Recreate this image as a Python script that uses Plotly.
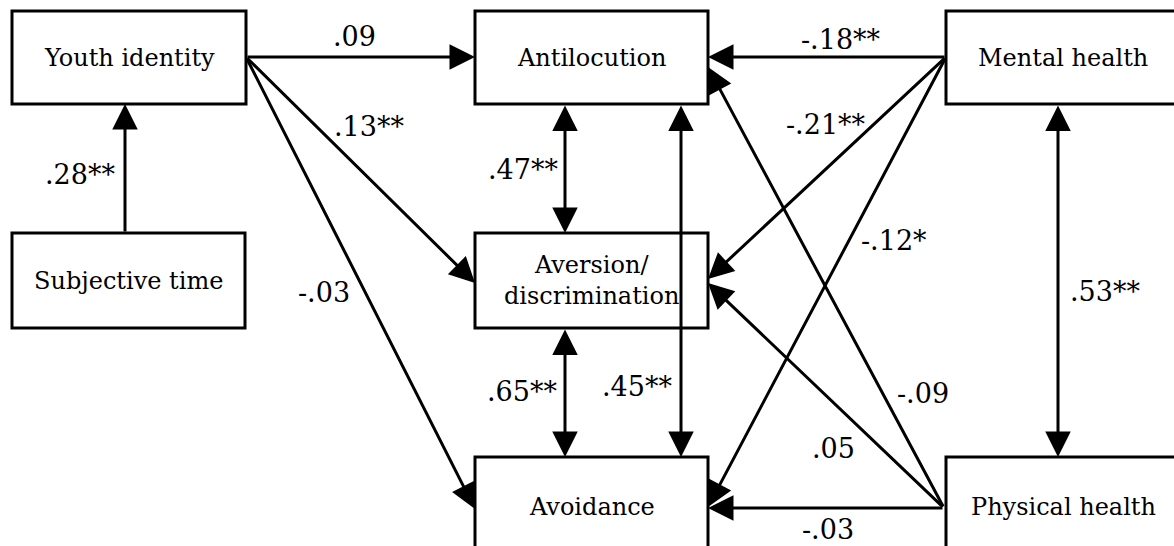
import plotly.graph_objects as go

# ---- data ----
node_names = ["Youth identity", "Subjective time", "Antilocution",
              "Aversion/<br>discrimination", "Avoidance", "Mental health", "Physical health"]
node_keys = ["youth", "subj", "anti", "avers", "avoid", "mental", "phys"]

# directed paths: (from, to, coefficient label)
path_from = ["subj", "youth", "youth", "youth", "mental", "mental", "mental", "phys", "phys", "phys"]
path_to = ["youth", "anti", "avers", "avoid", "anti", "avers", "avoid", "anti", "avers", "avoid"]
path_labels = [".28**", ".09", ".13**", "-.03", "-.18**", "-.21**", "-.12*", "-.09", ".05", "-.03"]

# correlations (double-headed)
corr_a = ["anti", "avers", "anti", "mental"]
corr_b = ["avers", "avoid", "avoid", "phys"]
corr_labels = [".47**", ".65**", ".45**", ".53**"]

# ---- layout geometry (pixel space) ----
boxes = {
    "youth": (12, 246, 11, 104),
    "subj": (12, 245, 233, 328),
    "anti": (475, 708, 11, 104),
    "avers": (475, 708, 233, 328),
    "avoid": (475, 708, 457, 558),
    "mental": (946, 1180, 11, 104),
    "phys": (946, 1180, 457, 558),
}
path_geom = {
    ("subj", "youth"): ((125, 233), (125, 104)),
    ("youth", "anti"): ((246, 57), (475, 57)),
    ("youth", "avers"): ((246, 57), (475, 283)),
    ("youth", "avoid"): ((246, 57), (475, 509)),
    ("mental", "anti"): ((946, 57), (708, 57)),
    ("mental", "avers"): ((946, 57), (708, 279)),
    ("mental", "avoid"): ((946, 57), (708, 507)),
    ("phys", "anti"): ((944, 508), (708, 67)),
    ("phys", "avers"): ((944, 508), (708, 283)),
    ("phys", "avoid"): ((944, 508), (708, 508)),
}
path_label_pos = {
    ("subj", "youth"): (80, 174),
    ("youth", "anti"): (354, 36),
    ("youth", "avers"): (369, 126),
    ("youth", "avoid"): (324, 292),
    ("mental", "anti"): (841, 39),
    ("mental", "avers"): (826, 124),
    ("mental", "avoid"): (894, 240),
    ("phys", "anti"): (923, 393),
    ("phys", "avers"): (833, 448),
    ("phys", "avoid"): (828, 529),
}
corr_geom = {
    ("anti", "avers"): ((565, 104), (565, 233)),
    ("avers", "avoid"): ((565, 328), (565, 457)),
    ("anti", "avoid"): ((681, 104), (681, 457)),
    ("mental", "phys"): ((1058, 104), (1058, 457)),
}
corr_label_pos = {
    ("anti", "avers"): (523, 169),
    ("avers", "avoid"): (522, 391),
    ("anti", "avoid"): (637, 386),
    ("mental", "phys"): (1105, 291),
}

FONT = "DejaVu Serif"
W, H = 1174, 546
LW = 3

fig = go.Figure()
fig.add_trace(go.Scatter(x=[0, W], y=[0, H], mode="markers",
                         marker=dict(opacity=0), hoverinfo="skip", showlegend=False))

shapes = []
annotations = []
for key, name in zip(node_keys, node_names):
    x0, x1, y0, y1 = boxes[key]
    shapes.append(dict(type="rect", xref="x", yref="y", x0=x0, x1=x1, y0=y0, y1=y1,
                       line=dict(color="black", width=LW), fillcolor="white", layer="below"))
    cy = (y0 + min(y1, 557)) / 2
    annotations.append(dict(x=(x0 + min(x1, 1180)) / 2, y=cy, xref="x", yref="y",
                            text=name, showarrow=False,
                            font=dict(family=FONT, size=24, color="black"),
                            xanchor="center", yanchor="middle"))

arrow_common = dict(xref="x", yref="y", axref="x", ayref="y", text="", showarrow=True,
                    arrowhead=2, arrowsize=1.7, arrowwidth=LW, arrowcolor="black",
                    standoff=0, startstandoff=0)

for f, t, lab in zip(path_from, path_to, path_labels):
    (tx, ty), (hx, hy) = path_geom[(f, t)]
    annotations.append(dict(x=hx, y=hy, ax=tx, ay=ty, **arrow_common))
    lx, ly = path_label_pos[(f, t)]
    annotations.append(dict(x=lx, y=ly, xref="x", yref="y", text=lab, showarrow=False,
                            font=dict(family=FONT, size=27, color="black"),
                            xanchor="center", yanchor="middle"))

for a, b, lab in zip(corr_a, corr_b, corr_labels):
    (tx, ty), (hx, hy) = corr_geom[(a, b)]
    annotations.append(dict(x=hx, y=hy, ax=tx, ay=ty, arrowside="end+start",
                            startarrowhead=2, startarrowsize=1.7, **arrow_common))
    lx, ly = corr_label_pos[(a, b)]
    annotations.append(dict(x=lx, y=ly, xref="x", yref="y", text=lab, showarrow=False,
                            font=dict(family=FONT, size=27, color="black"),
                            xanchor="center", yanchor="middle"))

fig.update_layout(
    width=W, height=H,
    margin=dict(l=0, r=0, t=0, b=0),
    paper_bgcolor="white", plot_bgcolor="white",
    xaxis=dict(range=[0, W], visible=False, fixedrange=True),
    yaxis=dict(range=[H, 0], visible=False, fixedrange=True),
    shapes=shapes, annotations=annotations, showlegend=False,
)
fig.write_html("out.html", config={"displayModeBar": False},
               post_script="document.body.style.margin='0';document.body.style.overflow='hidden';")
